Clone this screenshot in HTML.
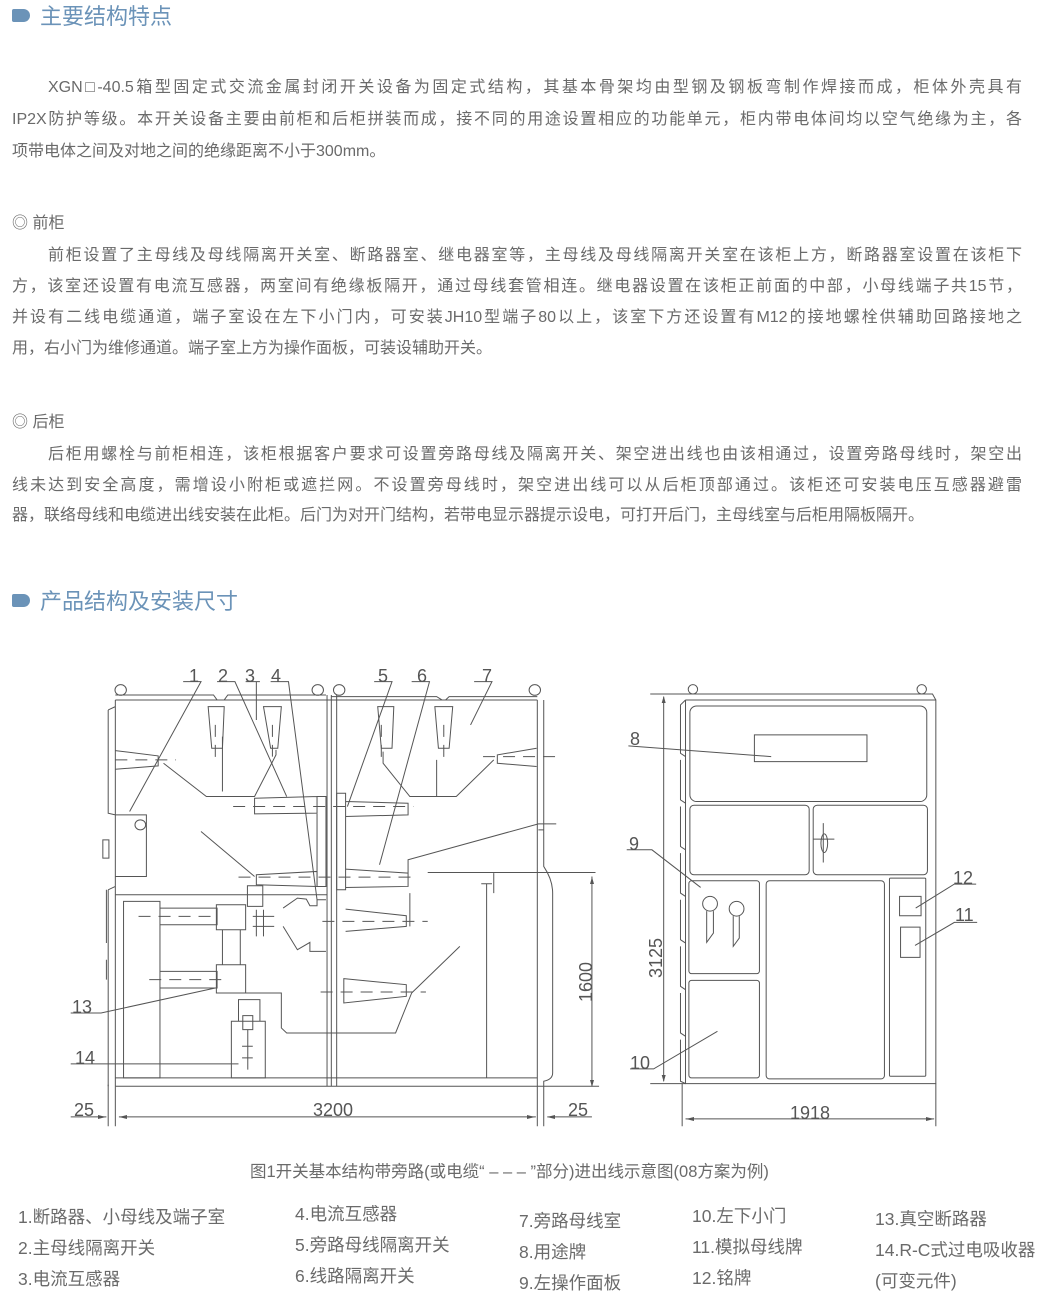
<!DOCTYPE html>
<html><head><meta charset="utf-8"><style>
html,body{margin:0;padding:0;background:#fff;}
body{width:1047px;height:1296px;position:relative;overflow:hidden;font-family:"Liberation Sans","Noto Sans CJK SC",sans-serif;color:#6a6a6a;}
.h{position:absolute;left:12px;font-size:22px;color:#6b93b8;height:30px;line-height:30px;}
.h i{display:inline-block;width:18px;height:13px;background:#6b93b8;border-radius:2px 7px 7px 2px;margin-right:10px;vertical-align:2px;}
.ln{position:absolute;left:12px;width:1010px;font-size:16px;height:22px;line-height:22px;text-align:justify;text-align-last:justify;white-space:nowrap;}
.ln.last{text-align-last:left;}
.ind{left:48px;width:974px;}
.sub{position:absolute;left:12px;font-size:16px;line-height:22px;}
.t{position:absolute;font-size:17.5px;line-height:20px;white-space:nowrap;}
svg{position:absolute;left:0;top:0;}
</style></head><body>
<div class="h" style="top:2px"><i></i>主要结构特点</div>
<div class="ln ind" style="top:77px">XGN□-40.5箱型固定式交流金属封闭开关设备为固定式结构，其基本骨架均由型钢及钢板弯制作焊接而成，柜体外壳具有</div>
<div class="ln" style="top:109px">IP2X防护等级。本开关设备主要由前柜和后柜拼装而成，接不同的用途设置相应的功能单元，柜内带电体间均以空气绝缘为主，各</div>
<div class="ln last" style="top:141px">项带电体之间及对地之间的绝缘距离不小于300mm。</div>

<div class="sub" style="top:213px">◎ 前柜</div>
<div class="ln ind" style="top:245px">前柜设置了主母线及母线隔离开关室、断路器室、继电器室等，主母线及母线隔离开关室在该柜上方，断路器室设置在该柜下</div>
<div class="ln" style="top:276px">方，该室还设置有电流互感器，两室间有绝缘板隔开，通过母线套管相连。继电器设置在该柜正前面的中部，小母线端子共15节，</div>
<div class="ln" style="top:307px">并设有二线电缆通道，端子室设在左下小门内，可安装JH10型端子80以上，该室下方还设置有M12的接地螺栓供辅助回路接地之</div>
<div class="ln last" style="top:338px">用，右小门为维修通道。端子室上方为操作面板，可装设辅助开关。</div>

<div class="sub" style="top:412px">◎ 后柜</div>
<div class="ln ind" style="top:444px">后柜用螺栓与前柜相连，该柜根据客户要求可设置旁路母线及隔离开关、架空进出线也由该相通过，设置旁路母线时，架空出</div>
<div class="ln" style="top:475px">线未达到安全高度，需增设小附柜或遮拦网。不设置旁母线时，架空进出线可以从后柜顶部通过。该柜还可安装电压互感器避雷</div>
<div class="ln last" style="top:505px">器，联络母线和电缆进出线安装在此柜。后门为对开门结构，若带电显示器提示设电，可打开后门，主母线室与后柜用隔板隔开。</div>

<div class="h" style="top:587px"><i></i>产品结构及安装尺寸</div>

<svg width="1047" height="1296" viewBox="0 0 1047 1296">
<g transform="translate(60,660) scale(0.357,0.333)" fill="none" stroke="#555" stroke-width="1">
<circle cx="170" cy="90" r="16" vector-effect="non-scaling-stroke"/><circle cx="722" cy="90" r="16" vector-effect="non-scaling-stroke"/>
<circle cx="782" cy="90" r="16" vector-effect="non-scaling-stroke"/><circle cx="1330" cy="90" r="16" vector-effect="non-scaling-stroke"/>
<path vector-effect="non-scaling-stroke" d="M155 105H430L440 120M460 120L470 105H745M760 110H1055L1070 120M1080 120L1090 110H1337"/>
<path vector-effect="non-scaling-stroke" d="M155 120H1337M155 120V1280M135 150L155 140M135 150V460L155 465M135 690V1280M135 690L155 680M1337 120V1280M1355 120V620Q1380 660 1380 700V1240Q1380 1260 1355 1265V1400M1337 1255V1400"/>
<path vector-effect="non-scaling-stroke" d="M748 105V1280M760 105V1280M775 105V1280M155 1255H1337M155 1280H1355M155 705H748"/>
<path vector-effect="non-scaling-stroke" d="M415 140H460L455 265H425ZM570 140H620L610 265H590ZM890 140H935L930 265H900ZM1050 140H1100L1090 265H1060Z"/>
<path vector-effect="non-scaling-stroke" d="M155 272L275 288V318L155 328M1335 265L1225 285V310L1335 320"/>
<path vector-effect="non-scaling-stroke" d="M290 310L410 410H545L605 285V270M455 230V395M905 275V310L980 410H1110L1215 300M1055 300V410"/>
<path vector-effect="non-scaling-stroke" d="M545 415L720 410V460L545 462ZM720 410H745V680H720ZM775 400H800V690H775ZM800 425L975 430V465L800 470"/>
<path vector-effect="non-scaling-stroke" d="M550 645L720 635V680L550 675ZM800 628L975 640V680L800 683M975 640V600L1340 492H1390M1355 510H1340"/>
<path vector-effect="non-scaling-stroke" d="M1030 638H1500M1195 672V1255M1180 672H1210M1215 640V700"/>
<path vector-effect="non-scaling-stroke" d="M155 465H242V650H155M120 540H137V595H120ZM130 690V850M130 900V960"/>
<circle cx="225" cy="495" r="15" vector-effect="non-scaling-stroke"/>
<path vector-effect="non-scaling-stroke" d="M178 725H280V1255H178ZM280 745H440V795H280ZM280 935H440V985H280ZM438 735H520V810H438ZM455 810H505V915H455ZM438 915H520V1000H438ZM525 678H568V740H525Z"/>
<path vector-effect="non-scaling-stroke" d="M625 745L665 715L690 718L700 738H720V720H745M625 800L665 870L700 848V875H745M540 770H600M540 800H600M550 750V830M570 750V830"/>
<path vector-effect="non-scaling-stroke" d="M800 748L970 768V800L800 815M980 700V800M795 957L970 975V1010L795 1030ZM520 1000H620V1105L635 1120H940L985 1000M985 1000L1120 860"/>
<path vector-effect="non-scaling-stroke" d="M500 1020H560V1085H500ZM480 1085H575V1255H480ZM512 1068H540V1110H512ZM526 1110V1230M510 1160H540M510 1195H540"/>
<path vector-effect="non-scaling-stroke" stroke-dasharray="12,8" d="M155 300H325M435 195V310M595 195V290M900 195V300M1075 195V300M1185 290H1390M485 440H990M500 652H1000M220 770H435M250 960H470M735 785H1030M730 997H1025"/>
<path vector-effect="non-scaling-stroke" d="M345 65H395L195 455M440 65H490L635 410M520 65H560M550 65V180M590 65H640L720 720M880 65H930L805 440M985 65H1035L895 615M1160 65H1210L1150 195M395 515L545 650M30 1060H115L435 985M30 1213H500"/>
<path vector-effect="non-scaling-stroke" d="M165 1372H1333M30 1372H130M1490 1372H1365M135 1275V1400M155 1280V1400M1490 650V1280M1355 1280H1510"/>
</g>
<g fill="#555">
<path d="M119 1117l8-2v4zM535 1117l-8-2v4zM106 1117l-8-2v4zM547 1117l8-2v4zM592 877l-2 7h4zM592 1087l-2 -7h4z"/>
</g>
<g transform="translate(620,660) scale(0.336,0.333)" fill="none" stroke="#555">
<circle cx="217" cy="88" r="14" vector-effect="non-scaling-stroke"/><circle cx="898" cy="88" r="14" vector-effect="non-scaling-stroke"/>
<path vector-effect="non-scaling-stroke" d="M90 102H930L940 120M195 120H940V1272H195V120M195 120L180 135V280L195 290M180 300V420L195 430M180 440V560L195 570M180 580V700L195 710M180 720V840L195 850M180 860V980L195 990M180 1000V1120L195 1130M180 1140V1265L195 1272"/>
<rect x="208" y="138" width="705" height="287" rx="20" vector-effect="non-scaling-stroke"/>
<rect x="400" y="225" width="335" height="80" vector-effect="non-scaling-stroke"/>
<rect x="208" y="436" width="355" height="209" rx="12" vector-effect="non-scaling-stroke"/>
<rect x="575" y="436" width="340" height="209" rx="12" vector-effect="non-scaling-stroke"/>
<path vector-effect="non-scaling-stroke" d="M605 490V608M575 538H638"/>
<ellipse cx="608" cy="550" rx="10" ry="28" vector-effect="non-scaling-stroke"/>
<rect x="205" y="663" width="210" height="279" rx="8" vector-effect="non-scaling-stroke"/>
<rect x="435" y="663" width="352" height="595" rx="10" vector-effect="non-scaling-stroke"/>
<rect x="802" y="655" width="108" height="595" rx="3" vector-effect="non-scaling-stroke"/>
<rect x="832" y="710" width="64" height="58" vector-effect="non-scaling-stroke"/>
<rect x="835" y="802" width="58" height="91" vector-effect="non-scaling-stroke"/>
<rect x="205" y="962" width="210" height="293" rx="8" vector-effect="non-scaling-stroke"/>
<circle cx="268" cy="732" r="22" vector-effect="non-scaling-stroke"/><circle cx="347" cy="747" r="22" vector-effect="non-scaling-stroke"/>
<path vector-effect="non-scaling-stroke" d="M258 754V848L278 820V754M337 769V860L355 835V769"/>
<path vector-effect="non-scaling-stroke" d="M25 258L450 290M20 570H95L240 683M30 1228H100L290 1115M1060 673H995L880 745M1063 788H995L878 857"/>
<path vector-effect="non-scaling-stroke" d="M130 110V1265M90 1272H195M195 1378H935M185 1272V1400M940 1272V1400"/>
</g>
<g fill="#555">
<path d="M663.7 696l-2 7h4zM663.7 1082l-2-7h4zM686 1119l8-2v4zM934 1119l-8-2v4z"/>
</g>
<g font-family="Liberation Sans, sans-serif" font-size="18" fill="#555">
<text x="189" y="682">1</text><text x="218" y="682">2</text><text x="245" y="682">3</text><text x="271" y="682">4</text>
<text x="378" y="682">5</text><text x="417" y="682">6</text><text x="482" y="682">7</text>
<text x="72" y="1013">13</text><text x="75" y="1064">14</text>
<text x="74" y="1116">25</text><text x="313" y="1116">3200</text><text x="568" y="1116">25</text>
<text transform="translate(592,1002) rotate(-90)">1600</text>
<text x="630" y="745">8</text><text x="629" y="850">9</text><text x="630" y="1069">10</text>
<text x="953" y="884">12</text><text x="955" y="921">11</text>
<text transform="translate(662,978) rotate(-90)">3125</text>
<text x="790" y="1119">1918</text>
</g>
</svg>

<div class="t" style="left:250px;top:1162px;font-size:16.5px">图1开关基本结构带旁路(或电缆“ – – – ”部分)进出线示意图(08方案为例)</div>
<div class="t" style="left:18px;top:1207px">1.断路器、小母线及端子室</div>
<div class="t" style="left:18px;top:1238px">2.主母线隔离开关</div>
<div class="t" style="left:18px;top:1269px">3.电流互感器</div>
<div class="t" style="left:295px;top:1204px">4.电流互感器</div>
<div class="t" style="left:295px;top:1235px">5.旁路母线隔离开关</div>
<div class="t" style="left:295px;top:1266px">6.线路隔离开关</div>
<div class="t" style="left:519px;top:1211px">7.旁路母线室</div>
<div class="t" style="left:519px;top:1242px">8.用途牌</div>
<div class="t" style="left:519px;top:1273px">9.左操作面板</div>
<div class="t" style="left:692px;top:1206px">10.左下小门</div>
<div class="t" style="left:692px;top:1237px">11.模拟母线牌</div>
<div class="t" style="left:692px;top:1268px">12.铭牌</div>
<div class="t" style="left:875px;top:1209px">13.真空断路器</div>
<div class="t" style="left:875px;top:1240px">14.R-C式过电吸收器</div>
<div class="t" style="left:875px;top:1271px">(可变元件)</div>
</body></html>
